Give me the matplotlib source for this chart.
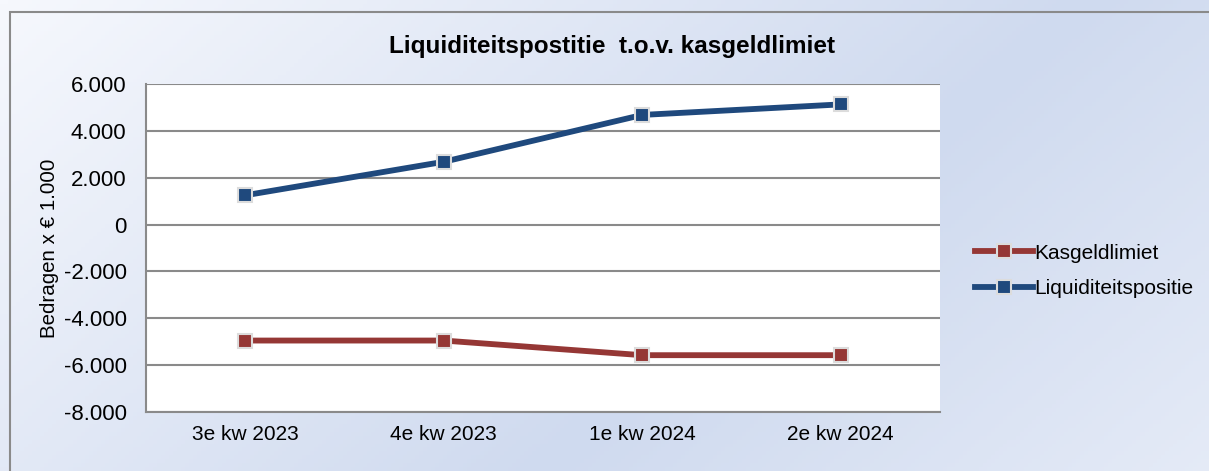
import numpy as np
import matplotlib.pyplot as plt
from matplotlib.colors import LinearSegmentedColormap
from matplotlib.patches import Rectangle
from matplotlib.ticker import FuncFormatter

plt.rcParams['font.family'] = ['Liberation Sans', 'DejaVu Sans']

categories = ['3e kw 2023', '4e kw 2023', '1e kw 2024', '2e kw 2024']
kasgeldlimiet = [-4950, -4950, -5575, -5575]
liquiditeit = [1250, 2680, 4680, 5130]

W, H = 1209, 471
fig = plt.figure(figsize=(W / 100, H / 100), dpi=100)

# background gradient of the chart area
bg = fig.add_axes([0, 0, 1, 1], zorder=0)
bg.set_axis_off()
xx, yy = np.meshgrid(np.linspace(0, 1, 300), np.linspace(0, 1, 120))
d = xx + (1 - yy) * 0.45
val = np.where(d < 0.9, d / 0.9, 1 - (d - 0.9) * 1.0)
cmap = LinearSegmentedColormap.from_list('bg', ['#f6f8fd', '#cfdaef'])
bg.imshow(np.clip(val, 0, 1), cmap=cmap, aspect='auto', extent=[0, 1, 0, 1],
          origin='lower', vmin=0, vmax=1)
bg.set_xlim(0, 1)
bg.set_ylim(0, 1)
bg.add_patch(Rectangle((10 / W, -0.05), 1.1, 1.05 - 12 / H, fill=False,
                       edgecolor='#8a8a8a', lw=1.5, transform=bg.transAxes))

ax = fig.add_axes([146 / W, 1 - 412 / H, (940 - 146) / W, (412 - 84) / H], zorder=1)
ax.set_facecolor('white')
x = np.arange(len(categories))

ax.plot(x, kasgeldlimiet, color='#953735', lw=4.2, marker='s', ms=10.5,
        mfc='#953735', mec='#dcdcdc', mew=1.5, label='Kasgeldlimiet', zorder=3)
ax.plot(x, liquiditeit, color='#1f497d', lw=4.2, marker='s', ms=10.5,
        mfc='#1f497d', mec='#dcdcdc', mew=1.5, label='Liquiditeitspositie', zorder=3)

ax.set_xlim(-0.5, 3.5)
ax.set_ylim(-8000, 6000)
ax.set_yticks(np.arange(-8000, 6001, 2000))
ax.yaxis.set_major_formatter(FuncFormatter(lambda v, p: f'{int(v):,}'.replace(',', '.')))
ax.set_xticks(x)
ax.set_xticklabels(categories)
ax.grid(axis='y', color='#8a8a8a', lw=1.5)
ax.set_axisbelow(True)
ax.tick_params(axis='x', length=0, labelsize=15, pad=9)
ax.tick_params(axis='y', length=0, labelsize=16, pad=14)
for s in ['top', 'right']:
    ax.spines[s].set_visible(False)
for s in ['left', 'bottom']:
    ax.spines[s].set_color('#8a8a8a')
    ax.spines[s].set_linewidth(1.5)

ax.set_ylabel('Bedragen x € 1.000', fontsize=14.8, labelpad=3)
fig.text(612 / W, 1 - 46 / H, 'Liquiditeitspostitie  t.o.v. kasgeldlimiet',
         ha='center', va='center', fontsize=17.5, fontweight='bold')

fig.legend(loc='center left', bbox_to_anchor=(956 / W, 1 - 271 / H), frameon=False,
           fontsize=15, handlelength=2.8, handletextpad=0.05, labelspacing=0.8,
           markerscale=0.9)

fig.savefig('out.png', dpi=100)
